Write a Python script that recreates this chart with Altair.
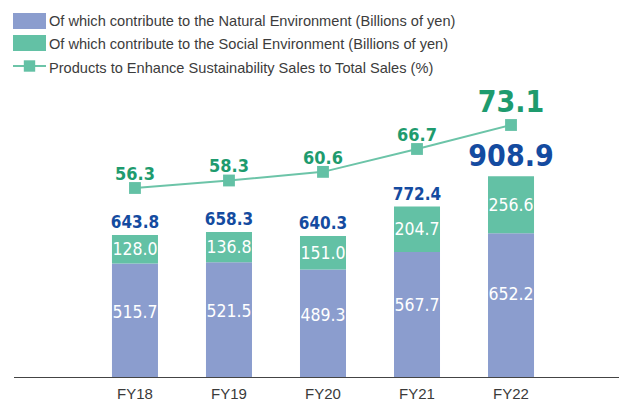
import altair as alt
import pandas as pd

years = ["FY18", "FY19", "FY20", "FY21", "FY22"]
natural = [515.7, 521.5, 489.3, 567.7, 652.2]
social = [128.0, 136.8, 151.0, 204.7, 256.6]
total = [643.8, 658.3, 640.3, 772.4, 908.9]
ratio = [56.3, 58.3, 60.6, 66.7, 73.1]
legend_labels = [
    "Of which contribute to the Natural Environment (Billions of yen)",
    "Of which contribute to the Social Environment (Billions of yen)",
    "Products to Enhance Sustainability Sales to Total Sales (%)",
]

df = pd.DataFrame({"year": years, "natural": natural, "social": social,
                   "total": total, "ratio": ratio})

NARROW = "DejaVu Sans Condensed, Liberation Sans, sans-serif"
SANS = "Liberation Sans, Arial, sans-serif"
C_NAT = "#8b9dce"
C_SOC = "#63c1a5"
C_LINE = "#6cc4a8"
C_GREEN = "#1e9b6e"
C_BLUE = "#144ba0"

xenc = alt.X("year:N", sort=years,
             scale=alt.Scale(paddingInner=0.5106, paddingOuter=0.973, align=0.5355),
             axis=alt.Axis(title=None, labelAngle=0, ticks=False, domain=False,
                           labelFont=SANS, labelFontSize=15,
                           labelColor="#3a3a3a", labelPadding=8, grid=False))
ybar_scale = alt.Scale(domain=[0, 1667], nice=False, zero=True)
yline_scale = alt.Scale(domain=[5.63, 104.3], nice=False, zero=False)

base = alt.Chart(df)

bar_nat = base.mark_bar(color=C_NAT).encode(
    x=xenc, y=alt.Y("zero:Q", scale=ybar_scale, axis=None), y2="natural:Q"
).transform_calculate(zero="0")
bar_soc = base.mark_bar(color=C_SOC).encode(
    x=xenc, y=alt.Y("natural:Q", scale=ybar_scale, axis=None), y2="total:Q")

txt_nat = base.mark_text(font=NARROW, fontSize=17.5, color="white", baseline="middle").encode(
    x=xenc, y=alt.Y("npos:Q", scale=ybar_scale, axis=None), text=alt.Text("natural:Q", format=".1f")
).transform_calculate(npos="datum.natural * 0.57")
txt_soc = base.mark_text(font=NARROW, fontSize=17.5, color="white", baseline="middle", dy=1).encode(
    x=xenc, y=alt.Y("spos:Q", scale=ybar_scale, axis=None), text=alt.Text("social:Q", format=".1f")
).transform_calculate(spos="(datum.natural + datum.total) / 2")

last = years[-1]
txt_tot = base.mark_text(font=NARROW, fontSize=17, fontWeight="bold", color=C_BLUE,
                         baseline="alphabetic", dy=-7).encode(
    x=xenc, y=alt.Y("total:Q", scale=ybar_scale, axis=None), text=alt.Text("total:Q", format=".1f")
).transform_filter(alt.datum.year != last)
txt_tot_big = base.mark_text(font=NARROW, fontSize=30, fontWeight="bold", color=C_BLUE,
                             baseline="alphabetic", dy=-10).encode(
    x=xenc, y=alt.Y("total:Q", scale=ybar_scale, axis=None), text=alt.Text("total:Q", format=".1f")
).transform_filter(alt.datum.year == last)

line = base.mark_line(color=C_LINE, strokeWidth=2).encode(
    x=xenc, y=alt.Y("ratio:Q", scale=yline_scale, axis=None))
pts = base.mark_square(color=C_SOC, size=140, opacity=1).encode(
    x=xenc, y=alt.Y("ratio:Q", scale=yline_scale, axis=None))
txt_r = base.mark_text(font=NARROW, fontSize=18, fontWeight="bold", color=C_GREEN,
                       baseline="alphabetic", dy=-8).encode(
    x=xenc, y=alt.Y("ratio:Q", scale=yline_scale, axis=None), text=alt.Text("ratio:Q", format=".1f")
).transform_filter(alt.datum.year != last)
txt_r_big = base.mark_text(font=NARROW, fontSize=30, fontWeight="bold", color=C_GREEN,
                           baseline="alphabetic", dy=-13).encode(
    x=xenc, y=alt.Y("ratio:Q", scale=yline_scale, axis=None), text=alt.Text("ratio:Q", format=".1f")
).transform_filter(alt.datum.year == last)

one = pd.DataFrame({"k": [0]})
baseline_rule = alt.Chart(one).mark_rule(color="#444", strokeWidth=1).encode(
    x=alt.value(0), x2=alt.value(605), y=alt.value(369.5))

# legend
def leg_text(i, y):
    return alt.Chart(pd.DataFrame({"label": [legend_labels[i]]})).mark_text(
        font=SANS, fontSize=14.6, color="#3c3c3c", align="left", baseline="alphabetic"
    ).encode(x=alt.value(35), y=alt.value(y), text="label:N")

sw1 = alt.Chart(one).mark_rect(color=C_NAT).encode(
    x=alt.value(-1), x2=alt.value(32), y=alt.value(5), y2=alt.value(21))
sw2 = alt.Chart(one).mark_rect(color=C_SOC).encode(
    x=alt.value(-1), x2=alt.value(32), y=alt.value(27), y2=alt.value(43))
sw3l = alt.Chart(one).mark_rule(color=C_LINE, strokeWidth=2).encode(
    x=alt.value(-1), x2=alt.value(32), y=alt.value(58))
sw3p = alt.Chart(one).mark_square(color=C_SOC, size=130, opacity=1).encode(
    x=alt.value(15.5), y=alt.value(58))

chart = alt.layer(
    bar_nat, bar_soc, baseline_rule, txt_nat, txt_soc, txt_tot, txt_tot_big,
    line, pts, txt_r, txt_r_big,
    sw1, sw2, sw3l, sw3p, leg_text(0, 18), leg_text(1, 40.5), leg_text(2, 64.5)
).resolve_scale(y="independent").properties(
    width=605, height=370,
    autosize=alt.AutoSizeParams(type="none"),
    padding={"left": 6, "top": 0, "right": 0, "bottom": 26},
).configure_view(stroke=None)

chart.save("out.html", embed_options={"renderer": "svg", "actions": False})
